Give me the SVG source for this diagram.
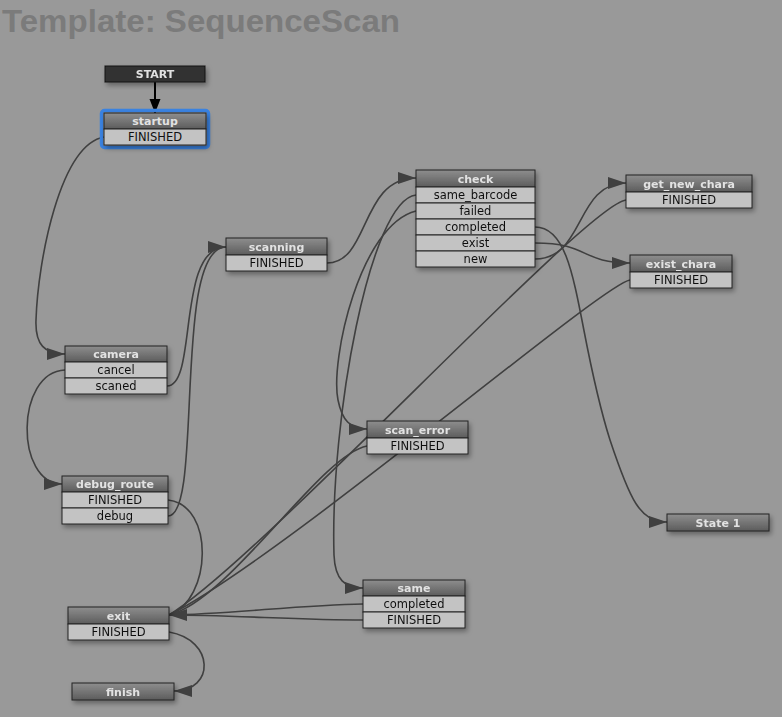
<svg xmlns="http://www.w3.org/2000/svg" width="782" height="717" viewBox="0 0 782 717">
<defs>
<linearGradient id="hg" x1="0" y1="0" x2="0" y2="1">
<stop offset="0" stop-color="#8e8e8e"/>
<stop offset="1" stop-color="#5c5c5c"/>
</linearGradient>
<filter id="sh" x="-10%" y="-30%" width="130%" height="180%">
<feDropShadow dx="2" dy="3" stdDeviation="2.5" flood-color="#000" flood-opacity="0.35"/>
</filter>
<marker id="ah" markerUnits="userSpaceOnUse" markerWidth="18" markerHeight="12" refX="18" refY="6" orient="auto" overflow="visible">
<path d="M0,0 L18,6 L0,12 Z" fill="#404040"/>
</marker>
<marker id="ahb" markerUnits="userSpaceOnUse" markerWidth="12" markerHeight="14" refX="14" refY="5.5" orient="auto" overflow="visible">
<path d="M0,0 L14,5.5 L0,11 Z" fill="#000"/>
</marker>
</defs>
<style>
.hd{fill:url(#hg);stroke:#222;stroke-width:1}
.row{fill:#c3c3c3;stroke:#222;stroke-width:1}
.ht{font-family:"DejaVu Sans",sans-serif;font-weight:bold;font-size:11px;fill:#e2e2e2;text-anchor:middle}
.rt{font-family:"DejaVu Sans",sans-serif;font-size:11.5px;fill:#111;text-anchor:middle}
.edge{fill:none;stroke:#404040;stroke-width:1.6}
.node{filter:url(#sh)}
</style>
<rect x="0" y="0" width="782" height="717" fill="#999999"/>
<text x="2" y="32" font-family="Liberation Sans, Arial, sans-serif" font-weight="bold" font-size="32" fill="#7b7b7b" textLength="398" lengthAdjust="spacingAndGlyphs">Template: SequenceScan</text>

<g id="connectors">
<path d="M155,82 L155,113" fill="none" stroke="#000" stroke-width="2" marker-end="url(#ahb)"/>
<path class="edge" d="M104,137 C60,145 38,260 36,320 C35,345 45,354 65,354" marker-end="url(#ah)"/>
<path class="edge" d="M65,370 C15,372 15,484 62,484" marker-end="url(#ah)"/>
<path class="edge" d="M167,386 C198,386 176,247 226,247" marker-end="url(#ah)"/>
<path class="edge" d="M168,516 C204,516 172,247 226,247"/>
<path class="edge" d="M168,500 C215,505 212,600 169,615"/>
<path class="edge" d="M327,263 C370,263 360,178 416,178" marker-end="url(#ah)"/>
<path class="edge" d="M416,195 C370,200 330,420 334,555 C335,580 345,588 363,588" marker-end="url(#ah)"/>
<path class="edge" d="M416,211 C360,225 330,360 338,400 C342,420 350,429 367,429" marker-end="url(#ah)"/>
<path class="edge" d="M535,227 C580,227 575,330 610,440 C630,500 640,522 667,522" marker-end="url(#ah)"/>
<path class="edge" d="M535,243 C590,243 580,263 630,263" marker-end="url(#ah)"/>
<path class="edge" d="M535,259 C585,259 575,183 626,183" marker-end="url(#ah)"/>
<path class="edge" d="M626,200 C585,205 260,560 169,615"/>
<path class="edge" d="M630,280 C600,285 280,560 169,615"/>
<path class="edge" d="M367,446 C320,455 230,600 169,615"/>
<path class="edge" d="M363,604 C300,605 230,614 169,615"/>
<path class="edge" d="M363,620 C300,620 230,615 169,615" marker-end="url(#ah)"/>
<path class="edge" d="M169,632 C215,640 215,691 174,691" marker-end="url(#ah)"/>
</g>

<g id="START" class="node">
<rect x="105" y="66" width="100" height="16" fill="#333" stroke="#111"/>
<text class="ht" x="155" y="78">START</text>
</g>

<g id="startup">
<rect x="101.5" y="110.5" width="107" height="37" rx="3" fill="none" stroke="#3a82e0" stroke-width="3.5"/>
<g class="node">
<rect class="hd" x="104" y="113" width="102" height="16"/>
<rect class="row" x="104" y="129" width="102" height="16"/>
</g>
<text class="ht" x="155" y="125">startup</text>
<text class="rt" x="155" y="141">FINISHED</text>
</g>

<g id="scanning" class="node">
<rect class="hd" x="226" y="238" width="101" height="17"/>
<rect class="row" x="226" y="255" width="101" height="16"/>
<text class="ht" x="276.5" y="250.5">scanning</text>
<text class="rt" x="276.5" y="267">FINISHED</text>
</g>

<g id="check" class="node">
<rect class="hd" x="416" y="170" width="119" height="17"/>
<rect class="row" x="416" y="187" width="119" height="16"/>
<rect class="row" x="416" y="203" width="119" height="16"/>
<rect class="row" x="416" y="219" width="119" height="16"/>
<rect class="row" x="416" y="235" width="119" height="16"/>
<rect class="row" x="416" y="251" width="119" height="16"/>
<text class="ht" x="475.5" y="182.5">check</text>
<text class="rt" x="475.5" y="199">same_barcode</text>
<text class="rt" x="475.5" y="215">failed</text>
<text class="rt" x="475.5" y="231">completed</text>
<text class="rt" x="475.5" y="247">exist</text>
<text class="rt" x="475.5" y="263">new</text>
</g>

<g id="camera" class="node">
<rect class="hd" x="65" y="346" width="102" height="16"/>
<rect class="row" x="65" y="362" width="102" height="16"/>
<rect class="row" x="65" y="378" width="102" height="16"/>
<text class="ht" x="116" y="358">camera</text>
<text class="rt" x="116" y="374">cancel</text>
<text class="rt" x="116" y="390">scaned</text>
</g>

<g id="debug_route" class="node">
<rect class="hd" x="62" y="476" width="106" height="16"/>
<rect class="row" x="62" y="492" width="106" height="16"/>
<rect class="row" x="62" y="508" width="106" height="16"/>
<text class="ht" x="115" y="488">debug_route</text>
<text class="rt" x="115" y="504">FINISHED</text>
<text class="rt" x="115" y="520">debug</text>
</g>

<g id="exit" class="node">
<rect class="hd" x="68" y="607" width="101" height="17"/>
<rect class="row" x="68" y="624" width="101" height="16"/>
<text class="ht" x="118.5" y="619.5">exit</text>
<text class="rt" x="118.5" y="636">FINISHED</text>
</g>

<g id="finish" class="node">
<rect class="hd" x="72" y="683" width="102" height="17"/>
<text class="ht" x="123" y="695.5">finish</text>
</g>

<g id="get_new_chara" class="node">
<rect class="hd" x="626" y="175" width="126" height="17"/>
<rect class="row" x="626" y="192" width="126" height="16"/>
<text class="ht" x="689" y="187.5">get_new_chara</text>
<text class="rt" x="689" y="204">FINISHED</text>
</g>

<g id="exist_chara" class="node">
<rect class="hd" x="630" y="255" width="102" height="17"/>
<rect class="row" x="630" y="272" width="102" height="16"/>
<text class="ht" x="681" y="267.5">exist_chara</text>
<text class="rt" x="681" y="284">FINISHED</text>
</g>

<g id="scan_error" class="node">
<rect class="hd" x="367" y="421" width="101" height="17"/>
<rect class="row" x="367" y="438" width="101" height="16"/>
<text class="ht" x="417.5" y="433.5">scan_error</text>
<text class="rt" x="417.5" y="450">FINISHED</text>
</g>

<g id="same" class="node">
<rect class="hd" x="363" y="580" width="102" height="16"/>
<rect class="row" x="363" y="596" width="102" height="16"/>
<rect class="row" x="363" y="612" width="102" height="16"/>
<text class="ht" x="414" y="592">same</text>
<text class="rt" x="414" y="608">completed</text>
<text class="rt" x="414" y="624">FINISHED</text>
</g>

<g id="State_1" class="node">
<rect class="hd" x="667" y="514" width="102" height="17"/>
<text class="ht" x="718" y="526.5">State 1</text>
</g>
</svg>
